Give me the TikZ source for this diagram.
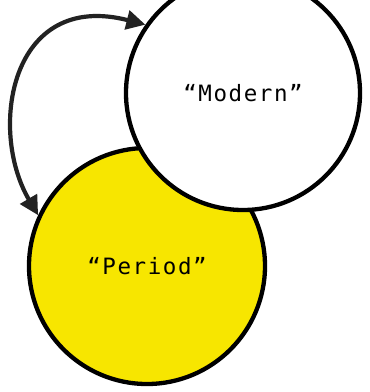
\documentclass[tikz,border=0pt]{standalone}
\usepackage{fontspec}
\setmonofont[LetterSpace=7]{DejaVu Sans Mono}
\usetikzlibrary{arrows.meta}
\definecolor{sunyellow}{RGB}{247,230,0}
\definecolor{inkdark}{RGB}{34,34,34}
\tikzset{
  bubble/.style={circle, draw=black, line width=4.3pt, inner sep=0pt, font=\ttfamily\fontsize{22.5}{26}\selectfont},
  link/.style={draw=inkdark, line width=4.2pt, {Triangle[length=19pt,width=19pt]}-{Triangle[length=19pt,width=19pt]}}
}
\begin{document}
\begin{tikzpicture}[x=1pt,y=-1pt]
\useasboundingbox (0,0) rectangle (370,392);
\begin{scope}
\clip (0,0) rectangle (370,392);
\node[bubble, fill=sunyellow, minimum size=236pt] (period) at (147,266) {“Period”};
\node[bubble, fill=white, minimum size=234pt] (modern) at (243,93) {“Modern”};
\end{scope}
\draw[link] (period.155) .. controls (-12,130) and (10,-10) .. (modern.145);
\end{tikzpicture}
\end{document}
